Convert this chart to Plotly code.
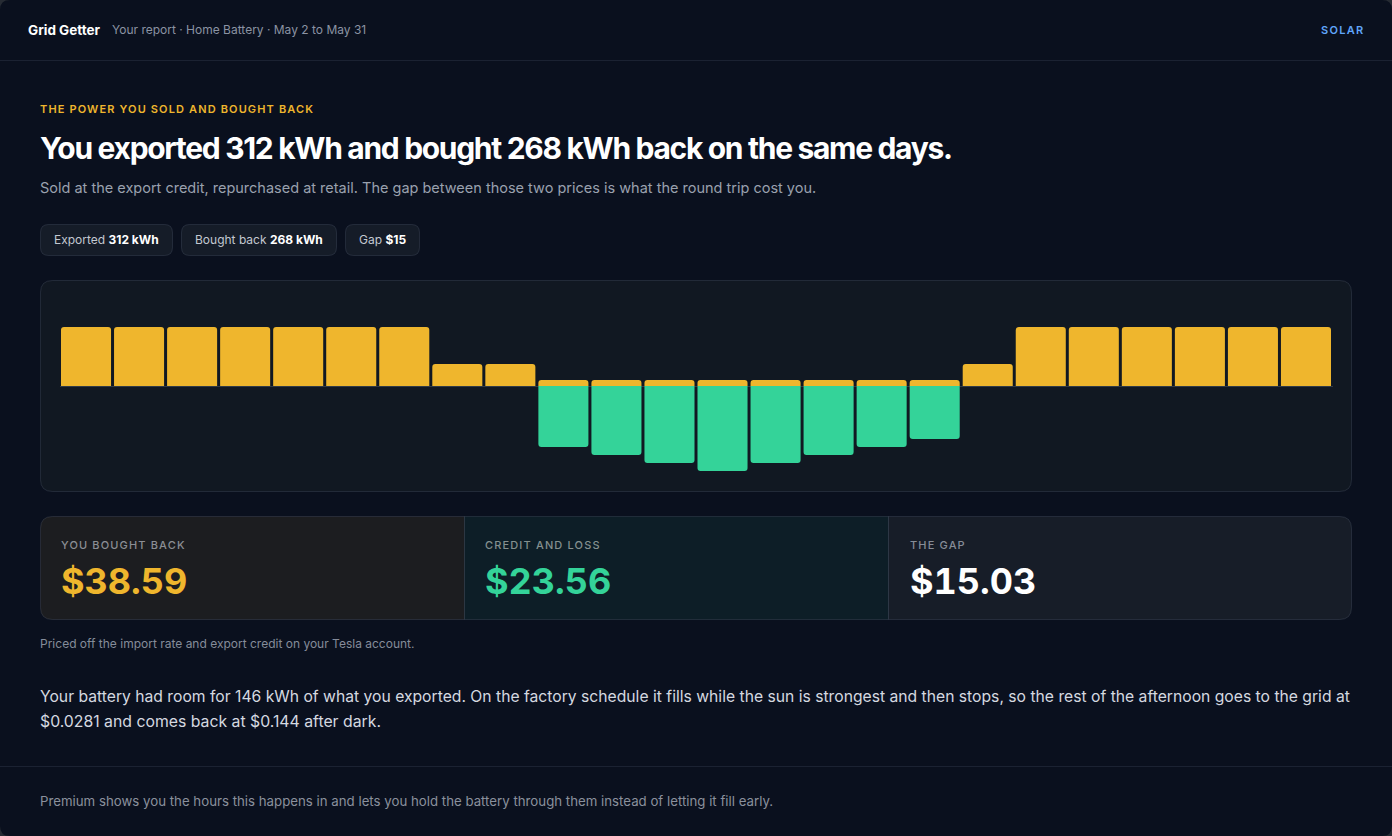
import plotly.graph_objects as go

W, H = 1392, 836

# ---- data ----
hours = list(range(24))
exported = [59, 59, 59, 59, 59, 59, 59, 22, 22, 6, 6, 6, 6, 6, 6, 6, 6, 22, 59, 59, 59, 59, 59, 59]
bought_back = [0, 0, 0, 0, 0, 0, 0, 0, 0, -61, -69, -77, -85, -77, -69, -61, -53, 0, 0, 0, 0, 0, 0, 0]

BG = "#0a101e"
PANEL = "#111822"
BORDER = "rgba(148,163,184,0.16)"
GOLD = "#efb62d"
GREEN = "#34d399"
FONT = "Inter"


def px(x):
    return x / W


def py(y):
    return 1 - y / H


def rr(x0, y0, x1, y1, r=(8, 8, 8, 8)):
    tl, tr, br, bl = r
    P = lambda x, y: f"{px(x):.5f},{py(y):.5f}"
    s = f"M{P(x0 + tl, y0)} L{P(x1 - tr, y0)} "
    s += f"Q{P(x1, y0)} {P(x1, y0 + tr)} L{P(x1, y1 - br)} "
    s += f"Q{P(x1, y1)} {P(x1 - br, y1)} L{P(x0 + bl, y1)} "
    s += f"Q{P(x0, y1)} {P(x0, y1 - bl)} L{P(x0, y0 + tl)} "
    s += f"Q{P(x0, y0)} {P(x0 + tl, y0)} Z"
    return s


shapes = []


def box(x0, y0, x1, y1, fill, line=BORDER, r=(8, 8, 8, 8)):
    shapes.append(dict(type="path", xref="paper", yref="paper", path=rr(x0, y0, x1, y1, r),
                       fillcolor=fill, line=dict(color=line, width=1), layer="below"))


def hline(y, x0=0, x1=W, color="rgba(148,163,184,0.13)"):
    shapes.append(dict(type="line", xref="paper", yref="paper", x0=px(x0), x1=px(x1), y0=py(y), y1=py(y),
                       line=dict(color=color, width=1), layer="below"))


def corner(cx, cy, sx, sy, r=10, color="#262b33"):
    P = lambda x, y: f"{px(x):.5f},{py(y):.5f}"
    path = f"M{P(cx, cy)} L{P(cx + sx * r, cy)} Q{P(cx, cy)} {P(cx, cy + sy * r)} Z"
    shapes.append(dict(type="path", xref="paper", yref="paper", path=path,
                       fillcolor=color, line=dict(width=0), layer="below"))


corner(0, 0, 1, 1)
corner(W, 0, -1, 1)
corner(0, H, 1, -1)
corner(W, H, -1, -1)
hline(60.5)
hline(766.5)
box(40.5, 280.5, 1351.5, 491.5, PANEL, r=(12, 12, 12, 12))
box(40.5, 224.5, 172.5, 255.5, "#151c28")
box(181.5, 224.5, 336.5, 255.5, "#151c28")
box(345.5, 224.5, 419.5, 255.5, "#151c28")
box(40.5, 516.5, 464.5, 619.5, "#1c1d20", r=(12, 0, 0, 12))
box(464.5, 516.5, 888.5, 619.5, "#0d1e27", r=(0, 0, 0, 0))
box(888.5, 516.5, 1351.5, 619.5, "#171d28", r=(0, 12, 12, 0))

annotations = []


def text(x, y, s, size, color, weight=400):
    annotations.append(dict(xref="paper", yref="paper", x=px(x), y=py(y), xanchor="left", yanchor="middle",
                            align="left", text=s, showarrow=False, borderpad=0,
                            font=dict(family=FONT, size=size, color=color, weight=weight)))


def strong(s):
    return f'<b><span style="color:#ffffff">{s}</span></b>'


text(27, 29.5, "Grid Getter", 13.5, "#ffffff", 700)
text(111, 29.5, "Your report · Home Battery · May 2 to May 31", 12, "#8b93a3")
text(1320, 29.5, "SOLAR", 11, "#60a5fa", 600)
text(39, 109, "THE POWER YOU SOLD AND BOUGHT BACK", 11, GOLD, 600)
text(39, 148, "You exported 312 kWh and bought 268 kWh back on the same days.", 30, "#ffffff", 700)
text(39, 188, "Sold at the export credit, repurchased at retail. The gap between those two prices is what the round trip cost you.", 14.5, "#9aa1ae")
text(53, 240, "Exported " + strong("312 kWh"), 12, "#c3c8d1")
text(194, 240, "Bought back " + strong("268 kWh"), 12, "#c3c8d1")
text(358, 240, "Gap " + strong("$15"), 12, "#c3c8d1")
text(60, 545, "YOU BOUGHT BACK", 11, "#8b8e94", 500)
text(484, 545, "CREDIT AND LOSS", 11, "#84908f", 500)
text(909, 545, "THE GAP", 11, "#868c97", 500)
text(60, 580.5, "$38.59", 36, GOLD, 700)
text(484, 580.5, "$23.56", 36, GREEN, 700)
text(909, 580.5, "$15.03", 36, "#ffffff", 700)
text(39, 643.5, "Priced off the import rate and export credit on your Tesla account.", 12, "#858c9a")
text(39, 696, "Your battery had room for 146 kWh of what you exported. On the factory schedule it fills while the sun is strongest and then stops, so the rest of the afternoon goes to the grid at", 15.7, "#d5d9e0")
text(39, 721, "$0.0281 and comes back at $0.144 after dark.", 15.8, "#d5d9e0")
text(39, 801, "Premium shows you the hours this happens in and lets you hold the battery through them instead of letting it fill early.", 13.25, "#8a909d")

fig = go.Figure()
fig.add_bar(x=hours, y=exported, marker=dict(color=GOLD, line_width=0), name="Exported", showlegend=False)
fig.add_bar(x=hours, y=bought_back, marker=dict(color=GREEN, line_width=0), name="Bought back", showlegend=False)

fig.update_layout(
    width=W, height=H, margin=dict(l=0, r=0, t=0, b=0, pad=0),
    paper_bgcolor=BG, plot_bgcolor="rgba(0,0,0,0)",
    barmode="relative", bargap=3 / 53, barcornerradius=3,
    shapes=shapes, annotations=annotations,
    font=dict(family=FONT),
    xaxis=dict(domain=[px(59.5), px(1332.5)], range=[-0.5, 23.5], visible=False, fixedrange=True),
    yaxis=dict(domain=[py(480), py(300)], range=[-94, 86], showgrid=False, showticklabels=False,
               zeroline=True, zerolinecolor="rgba(148,163,184,0.25)", zerolinewidth=1, fixedrange=True),
)

post = """
document.documentElement.style.overflow='hidden';
document.body.style.margin='0';
document.body.style.background='%s';
var sp={'THE POWER':'1.14px','You exported':'-1.31px','YOU BOUGHT':'1.15px','CREDIT AND':'1.15px','THE GAP':'1.15px','SOLAR':'1.28px'};
document.querySelectorAll('.annotation-text').forEach(function(t){
  var c=t.textContent;
  for(var k in sp){ if(c.indexOf(k)===0){ t.style.letterSpacing=sp[k]; } }
  if(c.charAt(0)==='$' && c.indexOf('.')===3 && c.length===6){ t.style.fontFeatureSettings='"tnum"'; }
});
""" % BG

fig.write_html("out.html", config=dict(displayModeBar=False, responsive=False), post_script=post)
